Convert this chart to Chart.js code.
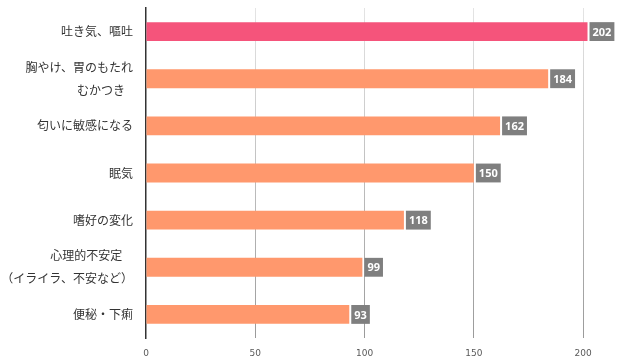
<!DOCTYPE html>
<html>
<head>
<meta charset="utf-8">
<script src="https://cdn.jsdelivr.net/npm/chart.js@4"></script>
<style>
  html, body { margin: 0; padding: 0; background: #fff; }
  #wrap { width: 619px; height: 362px; }
</style>
</head>
<body>
<div id="wrap"><canvas id="symptomChart" width="619" height="362"></canvas></div>
<script>
// Data
const categories = [
    ['吐き気、嘔吐'],
    ['胸やけ、胃のもたれ', 'むかつき   '],
    ['匂いに敏感になる'],
    ['眠気'],
    ['嗜好の変化'],
    ['心理的不安定    ', '（イライラ、不安など）'],
    ['便秘・下痢']
];
const counts = [202, 184, 162, 150, 118, 99, 93];
const tickValues = [0, 50, 100, 150, 200];

const barColors = counts.map((v, i) => i === 0 ? '#f5547b' : '#ff986d');

// value boxes drawn next to each bar end
const valueBoxes = {
    id: 'valueBoxes',
    afterDatasetsDraw(chart) {
        const ctx = chart.ctx;
        const meta = chart.getDatasetMeta(0);
        ctx.save();
        ctx.font = 'bold 11px "Noto Sans", "DejaVu Sans", sans-serif';
        ctx.textBaseline = 'middle';
        ctx.textAlign = 'center';
        meta.data.forEach((bar, i) => {
            const label = String(counts[i]);
            const w = ctx.measureText(label).width + 6;
            const h = bar.height;
            const x = bar.x + 2;
            ctx.fillStyle = '#7f7f7f';
            ctx.fillRect(x, bar.y - h / 2, w, h);
            ctx.fillStyle = '#ffffff';
            ctx.fillText(label, x + w / 2, bar.y + 1);
        });
        ctx.restore();
    }
};

function gridGradient(context) {
    const chart = context.chart;
    const area = chart.chartArea;
    if (!area) return '#cccccc';
    const g = chart.ctx.createLinearGradient(0, area.top, 0, area.bottom);
    g.addColorStop(0, '#e4e4e4');
    g.addColorStop(1, '#9a9a9a');
    return g;
}

new Chart(document.getElementById('symptomChart'), {
    type: 'bar',
    data: {
        labels: categories,
        datasets: [{
            data: counts,
            backgroundColor: barColors,
            categoryPercentage: 1,
            barPercentage: 0.4
        }]
    },
    options: {
        indexAxis: 'y',
        responsive: false,
        animation: false,
        layout: { padding: { top: 8, right: 14, left: 0, bottom: 0 } },
        plugins: {
            legend: { display: false },
            tooltip: { enabled: false }
        },
        scales: {
            x: {
                min: 0,
                max: 210,
                afterBuildTicks(scale) {
                    scale.ticks = tickValues.map(v => ({ value: v }));
                },
                afterFit(scale) {
                    scale.height = 24;
                    scale.paddingLeft = 0;
                    scale.paddingRight = 0;
                },
                grid: {
                    color: (c) => c.tick && c.tick.value === 0 ? 'rgba(0,0,0,0)' : gridGradient(c),
                    drawTicks: false
                },
                border: { display: false },
                ticks: {
                    padding: 10,
                    color: '#595959',
                    font: { size: 9, family: '"DejaVu Sans", sans-serif' }
                }
            },
            y: {
                afterFit(scale) {
                    scale.width = 146;
                    scale.paddingTop = 0;
                    scale.paddingBottom = 0;
                },
                grid: { display: false, drawTicks: false },
                border: { display: true, color: '#333333', width: 1.5 },
                ticks: {
                    autoSkip: false,
                    padding: 13,
                    color: '#333333',
                    font: { size: 12, family: '"Noto Sans CJK JP", sans-serif', lineHeight: 1.9 }
                }
            }
        }
    },
    plugins: [valueBoxes]
});
</script>
</body>
</html>
